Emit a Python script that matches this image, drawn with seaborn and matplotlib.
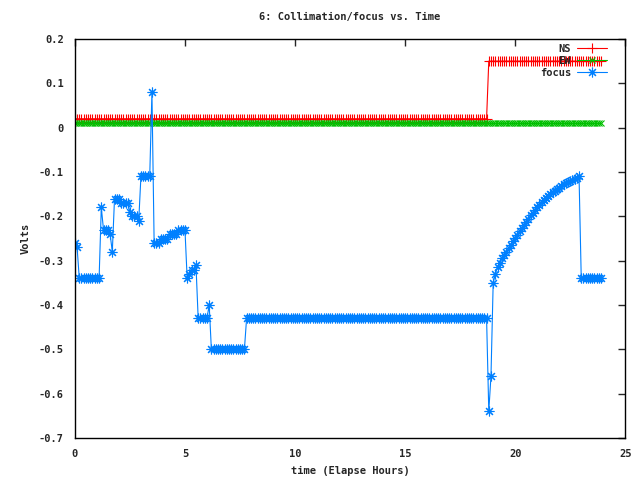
import numpy as np
import seaborn as sns
import matplotlib.pyplot as plt

# samples every 0.1 h
hours = np.round(np.arange(0, 24.0, 0.1), 1)

ns = [0.02] * 188 + [0.15] * 52
ew = [0.01] * 240

focus_curve = [-0.33, -0.315, -0.305, -0.295, -0.288, -0.28, -0.272, -0.264, -0.256, -0.249,
               -0.241, -0.234, -0.226, -0.219, -0.212, -0.205, -0.198, -0.192, -0.186, -0.18,
               -0.174, -0.168, -0.163, -0.158, -0.154, -0.15, -0.146, -0.142, -0.139, -0.135,
               -0.131, -0.128, -0.125, -0.122, -0.12, -0.118, -0.116, -0.113, -0.11]

focus = ([-0.26, -0.27] + [-0.34] * 10 + [-0.18] + [-0.23] * 3 + [-0.24, -0.28]
         + [-0.16] * 3 + [-0.17] * 4 + [-0.19] + [-0.20] * 3 + [-0.21]
         + [-0.11] * 5 + [0.08]
         + [-0.26, -0.26, -0.26, -0.25, -0.25, -0.25, -0.25, -0.24, -0.24, -0.24,
            -0.24, -0.23, -0.23, -0.23, -0.23]
         + [-0.34, -0.33, -0.32, -0.32, -0.31]
         + [-0.43] * 5 + [-0.40] + [-0.50] * 16 + [-0.43] * 110
         + [-0.64, -0.56, -0.35] + focus_curve + [-0.34] * 10)

xticks = [0, 5, 10, 15, 20, 25]
yticks = [0.2, 0.1, 0, -0.1, -0.2, -0.3, -0.4, -0.5, -0.6, -0.7]
ytick_labels = ['0.2', '0.1', '0', '-0.1', '-0.2', '-0.3', '-0.4', '-0.5', '-0.6', '-0.7']

sns.set_style('white')
plt.rcParams['font.family'] = ['DejaVu Sans Mono']
plt.rcParams['font.weight'] = 'bold'
plt.rcParams['font.size'] = 7.5

fig = plt.figure(figsize=(6.4, 4.8), dpi=100)
ax = fig.add_axes([0.117, 0.0875, 0.86, 0.83125])

asterisk = (8, 2, 0)
sns.lineplot(x=hours, y=ns, color='#ff0000', marker='+', markersize=7,
             markeredgecolor='#ff0000', markeredgewidth=0.8, linewidth=0.8, label='NS', ax=ax)
sns.lineplot(x=hours, y=ew, color='#00c000', marker='x', markersize=5,
             markeredgecolor='#00c000', markeredgewidth=0.8, linewidth=0.8, label='EW', ax=ax)
sns.lineplot(x=hours, y=focus, color='#0080ff', marker=asterisk, markersize=7,
             markeredgecolor='#0080ff', markeredgewidth=0.8, linewidth=0.8, label='focus', ax=ax)

ax.set_xlim(0, 25)
ax.set_ylim(-0.7, 0.2)
ax.set_xticks(xticks)
ax.set_yticks(yticks)
ax.set_yticklabels(ytick_labels)
ax.tick_params(direction='in', top=True, right=True, length=5, width=1, pad=8)
for s in ax.spines.values():
    s.set_color('black')
    s.set_linewidth(1)

ax.set_title('6: Collimation/focus vs. Time', fontsize=7.5, fontweight='bold', pad=14)
ax.set_xlabel('time (Elapse Hours)', fontweight='bold', labelpad=5)
ax.set_ylabel('Volts', fontweight='bold', labelpad=6)

ax.legend(loc='upper right', bbox_to_anchor=(0.975, 0.998), frameon=False,
          markerfirst=False, handlelength=2.9, handletextpad=0.6,
          borderaxespad=0.0, labelspacing=0.2)

fig.savefig('out.png', dpi=100)
